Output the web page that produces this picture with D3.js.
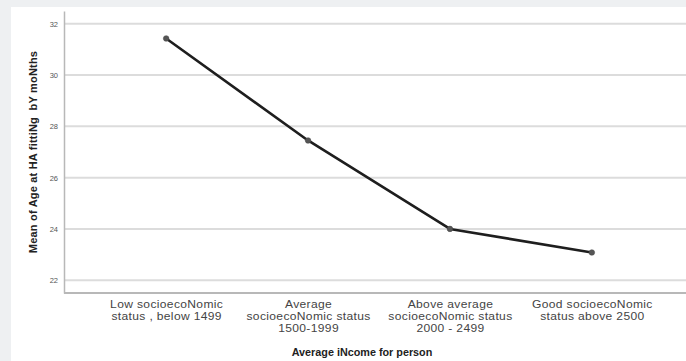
<!DOCTYPE html>
<html><head><meta charset="utf-8">
<script src="https://cdn.jsdelivr.net/npm/d3@7"></script>
<style>
html,body{margin:0;padding:0;background:#eef0f2;}
svg{display:block;}
text{font-variant-ligatures:none;}
</style></head>
<body>
<svg id="c" width="686" height="361"></svg>
<script>
const categories = [
  ["Low socioecoNomic", "status , below 1499"],
  ["Average", "socioecoNomic status", "1500-1999"],
  ["Above average", "socioecoNomic status", "2000 - 2499"],
  ["Good socioecoNomic", "status above 2500"]
];
const values = [31.43, 27.45, 24.0, 23.08];
const yTicks = [22, 24, 26, 28, 30, 32];
const xTitle = "Average iNcome for person";
const yTitle = "Mean of Age at HA fittiNg  bY moNths";

(function() {
const svg = d3.select("#c");
const W = 686, H = 361;
const mLeft = 64, mRight = 694, mTop = 11, mBottom = 293;
const FONT = "Arial, 'Liberation Sans', sans-serif";

svg.append("rect").attr("x", 11).attr("y", 7).attr("width", W - 11).attr("height", H - 7).attr("fill", "#fff");

const x = d3.scalePoint().domain(d3.range(categories.length)).range([mLeft, mRight]).padding(0.72);
const y = d3.scaleLinear().domain([21.5, 32.5]).range([mBottom, mTop]);

// gridlines
svg.append("g").selectAll("line").data(yTicks).join("line")
  .attr("x1", mLeft).attr("x2", W).attr("y1", d => y(d)).attr("y2", d => y(d))
  .attr("stroke", "#dcdcdc").attr("stroke-width", 2);

// y axis
const ya = svg.append("g").attr("transform", `translate(${mLeft},0)`)
  .call(d3.axisLeft(y).tickValues(yTicks).tickSize(0).tickPadding(6));
ya.select(".domain").attr("stroke", "#b8b8b8").attr("stroke-width", 1.5);
ya.selectAll("text").attr("font-family", FONT).attr("font-size", 7.5).attr("fill", "#555");

// x axis
const xa = svg.append("g").attr("transform", `translate(0,${mBottom})`)
  .call(d3.axisBottom(x).tickSize(0).tickFormat(""));
xa.select(".domain").attr("d", `M${mLeft},0H${W}`).attr("stroke", "#b8b8b8").attr("stroke-width", 2);
xa.selectAll(".tick").each(function(d) {
  const g = d3.select(this).append("g").attr("transform", "scale(1.15,1)");
  categories[d].forEach((s, i) => {
    g.append("text").attr("x", 0).attr("y", 15.5 + i * 12)
      .attr("text-anchor", "middle").attr("fill", "#444")
      .attr("font-family", FONT).attr("font-size", 10.5).attr("letter-spacing", 0.3)
      .text(s);
  });
});

// line
const line = d3.line().x((d, i) => x(i)).y(d => y(d));
svg.append("path").datum(values).attr("d", line)
  .attr("fill", "none").attr("stroke", "#1e1e1e").attr("stroke-width", 2.6).attr("stroke-linejoin", "round");
svg.append("g").selectAll("circle").data(values).join("circle")
  .attr("cx", (d, i) => x(i)).attr("cy", d => y(d)).attr("r", 2.8)
  .attr("fill", "#555").attr("stroke", "#444").attr("stroke-width", 0.5);

// titles
svg.append("text").attr("x", 362).attr("y", 355.5).attr("text-anchor", "middle")
  .attr("font-family", FONT).attr("font-size", 10.8).attr("font-weight", "bold").attr("fill", "#222")
  .text(xTitle);
svg.append("text").attr("transform", "translate(37,152) rotate(-90)").attr("text-anchor", "middle")
  .attr("font-family", FONT).attr("font-size", 11).attr("font-weight", "bold").attr("fill", "#222")
  .attr("letter-spacing", 0.2)
  .style("white-space", "pre")
  .text(yTitle);
})();
</script>
</body></html>
